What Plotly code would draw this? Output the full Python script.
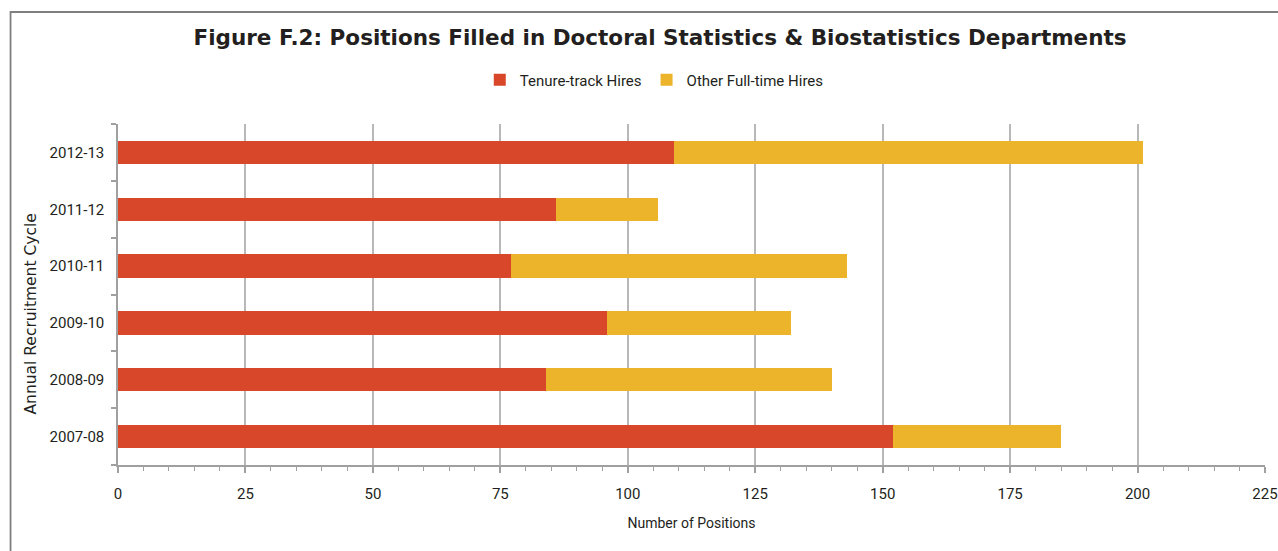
import plotly.graph_objects as go

cycles = ["2007-08", "2008-09", "2009-10", "2010-11", "2011-12", "2012-13"]
tenure_track = [152, 84, 96, 77, 86, 109]
other_full_time = [33, 56, 36, 66, 20, 92]
x_ticks = [0, 25, 50, 75, 100, 125, 150, 175, 200, 225]

RED = "#D9472A"
YELLOW = "#ECB42B"
FONT = "Liberation Sans Narrow, Roboto, sans-serif"

fig = go.Figure()
fig.add_trace(go.Bar(y=cycles, x=tenure_track, orientation="h", name="Tenure-track Hires",
                     marker=dict(color=RED, line=dict(width=0)), width=0.41))
fig.add_trace(go.Bar(y=cycles, x=other_full_time, orientation="h", name="Other Full-time Hires",
                     marker=dict(color=YELLOW, line=dict(width=0)), width=0.41))

W, H = 1278, 551
L, R, T, B = 117.5, 13, 124, 86
pw = W - L - R
ph = H - T - B

def px(xp):
    return (xp - L) / pw

def py(yp):
    return (H - B - yp) / ph

fig.update_layout(
    width=W, height=H, barmode="stack",
    margin=dict(l=L, r=R, t=T, b=B, autoexpand=False),
    paper_bgcolor="white", plot_bgcolor="white",
    font=dict(family=FONT, size=15, color="#231F20"),
    title=dict(text="<b>Figure F.2: Positions Filled in Doctoral Statistics &amp; Biostatistics Departments</b>",
               x=660 / W, xanchor="center", y=1 - 37 / H, yanchor="middle",
               font=dict(family="DejaVu Sans, sans-serif", size=21.5, color="#231F20")),
    legend=dict(orientation="h", x=px(654), xanchor="center", y=py(80), yanchor="middle",
                font=dict(family=FONT, size=15), traceorder="normal",
                itemwidth=30, bgcolor="rgba(0,0,0,0)"),
    xaxis=dict(range=[0, 225], tickvals=x_ticks, showgrid=True, gridcolor="#B8B8B8", gridwidth=1.5,
               zeroline=False, showline=True, linecolor="#A0A0A0", linewidth=1.5,
               ticks="outside", ticklen=6, tickcolor="#A0A0A0", tickwidth=1.5,
               minor=dict(dtick=5, ticks="outside", ticklen=4, tickcolor="#A0A0A0", tickwidth=1, showgrid=False),
               tickfont=dict(family=FONT, size=15), ticklabelstandoff=8,
               title=dict(text="Number of Positions", font=dict(family=FONT, size=14), standoff=16),
               automargin=False, fixedrange=True),
    yaxis=dict(type="category", categoryorder="array", categoryarray=cycles, showgrid=False, zeroline=False,
               range=[-0.5, 5.5],
               showline=True, linecolor="#A0A0A0", linewidth=1.5,
               ticks="outside", tickson="boundaries", ticklen=5, tickcolor="#A0A0A0", tickwidth=1.5,
               tickfont=dict(family=FONT, size=15), ticklabelstandoff=9,
               automargin=False, fixedrange=True),
    annotations=[dict(text="Annual Recruitment Cycle", textangle=-90, xref="paper", yref="paper",
                      x=px(30), y=py(314), xanchor="center", yanchor="middle", showarrow=False,
                      font=dict(family="DejaVu Sans, sans-serif", size=15.5, color="#231F20"))],
    shapes=[dict(type="path", xref="paper", yref="paper",
                 path=f"M {px(10)},{py(560)} L {px(10)},{py(12)} L {px(1290)},{py(12)}",
                 line=dict(color="#7F7F7F", width=1.8))],
)

fig.write_html("out.html", config={"displayModeBar": False},
               post_script="document.body.style.margin='0';document.body.style.padding='0';window.dispatchEvent(new Event('resize'));")
